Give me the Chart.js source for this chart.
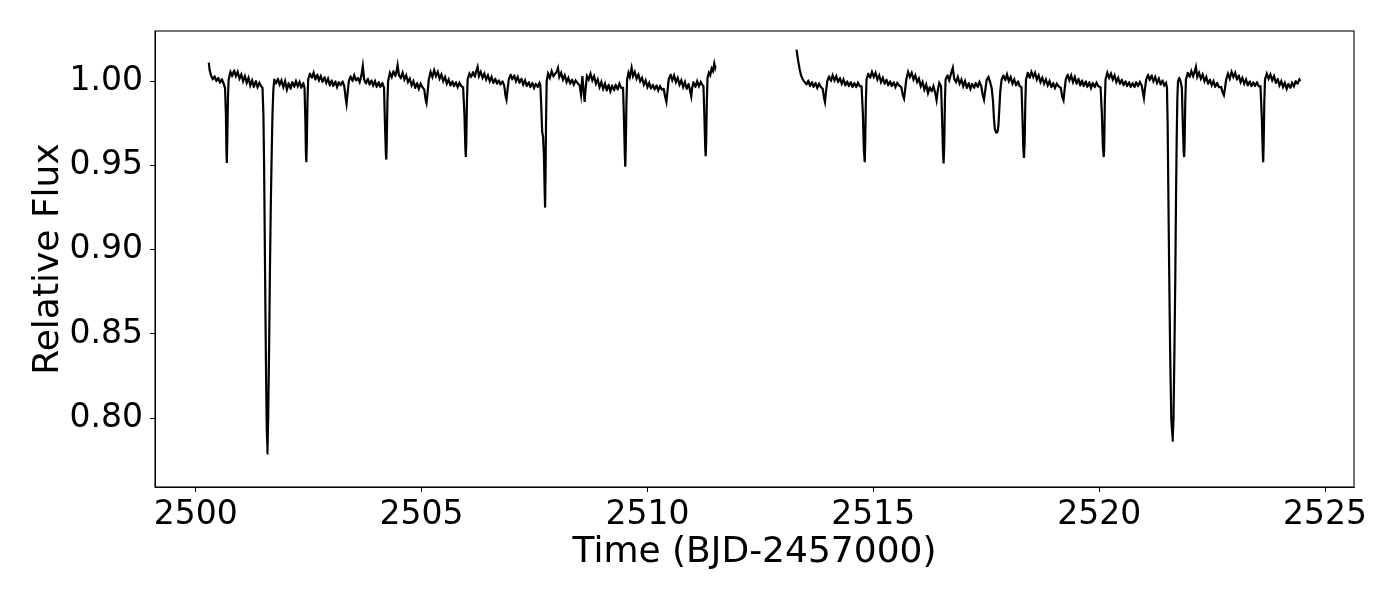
<!DOCTYPE html>
<html>
<head>
<meta charset="utf-8">
<script src="https://cdn.jsdelivr.net/npm/chart.js@4.4.1/dist/chart.umd.min.js"></script>
<style>
  body { margin: 0; background: #fff; }
  canvas { display: block; }
</style>
</head>
<body>
<canvas id="lightCurve" width="1400" height="600"></canvas>
<script>
// first orbit segment (BJD-2457000)
var time1 = [
  2500.29, 2500.31, 2500.34, 2500.38, 2500.42, 2500.46, 2500.50, 2500.54, 2500.58, 2500.62,
  2500.65, 2500.67, 2500.68, 2500.69, 2500.70, 2500.715, 2500.73, 2500.77, 2500.81, 2500.85,
  2500.89, 2500.93, 2500.97, 2501.01, 2501.05, 2501.09, 2501.13, 2501.17, 2501.21, 2501.25,
  2501.29, 2501.33, 2501.37, 2501.41, 2501.45, 2501.48, 2501.50, 2501.515, 2501.535, 2501.555,
  2501.57, 2501.588, 2501.605, 2501.625, 2501.645, 2501.665, 2501.685, 2501.70, 2501.72, 2501.74,
  2501.78, 2501.82, 2501.86, 2501.90, 2501.94, 2501.98, 2502.02, 2502.06, 2502.10, 2502.14,
  2502.18, 2502.22, 2502.26, 2502.30, 2502.34, 2502.38, 2502.41, 2502.43, 2502.44, 2502.45,
  2502.46, 2502.475, 2502.49, 2502.53, 2502.57, 2502.61, 2502.65, 2502.69, 2502.73, 2502.77,
  2502.81, 2502.85, 2502.89, 2502.93, 2502.97, 2503.01, 2503.05, 2503.09, 2503.13, 2503.17,
  2503.21, 2503.25, 2503.29, 2503.32, 2503.34, 2503.36, 2503.39, 2503.43, 2503.47, 2503.51,
  2503.55, 2503.59, 2503.63, 2503.67, 2503.70, 2503.73, 2503.77, 2503.81, 2503.85, 2503.89,
  2503.93, 2503.97, 2504.01, 2504.05, 2504.09, 2504.13, 2504.17, 2504.19, 2504.21, 2504.22,
  2504.23, 2504.245, 2504.26, 2504.30, 2504.34, 2504.38, 2504.42, 2504.45, 2504.47, 2504.50,
  2504.54, 2504.58, 2504.62, 2504.66, 2504.70, 2504.74, 2504.78, 2504.82, 2504.86, 2504.90,
  2504.94, 2504.98, 2505.02, 2505.06, 2505.09, 2505.11, 2505.13, 2505.16, 2505.20, 2505.24,
  2505.28, 2505.32, 2505.36, 2505.40, 2505.44, 2505.48, 2505.52, 2505.56, 2505.60, 2505.64,
  2505.68, 2505.72, 2505.76, 2505.80, 2505.84, 2505.88, 2505.92, 2505.95, 2505.97, 2505.98,
  2505.99, 2506.005, 2506.02, 2506.06, 2506.10, 2506.14, 2506.18, 2506.21, 2506.24, 2506.27,
  2506.31, 2506.35, 2506.39, 2506.43, 2506.47, 2506.51, 2506.55, 2506.59, 2506.63, 2506.67,
  2506.71, 2506.75, 2506.79, 2506.83, 2506.86, 2506.88, 2506.90, 2506.93, 2506.97, 2507.01,
  2507.05, 2507.09, 2507.13, 2507.17, 2507.21, 2507.25, 2507.29, 2507.33, 2507.37, 2507.41,
  2507.45, 2507.49, 2507.53, 2507.57, 2507.61, 2507.63, 2507.65, 2507.67, 2507.69, 2507.71,
  2507.725, 2507.735, 2507.745, 2507.755, 2507.77, 2507.80, 2507.84, 2507.88, 2507.92, 2507.96,
  2508.00, 2508.02, 2508.05, 2508.09, 2508.13, 2508.17, 2508.21, 2508.25, 2508.29, 2508.33,
  2508.37, 2508.41, 2508.45, 2508.50, 2508.53, 2508.56, 2508.59, 2508.61, 2508.63, 2508.66,
  2508.70, 2508.74, 2508.78, 2508.82, 2508.86, 2508.90, 2508.94, 2508.98, 2509.02, 2509.06,
  2509.10, 2509.14, 2509.18, 2509.22, 2509.26, 2509.30, 2509.34, 2509.38, 2509.42, 2509.46,
  2509.48, 2509.50, 2509.51, 2509.52, 2509.535, 2509.55, 2509.58, 2509.61, 2509.65, 2509.68,
  2509.72, 2509.76, 2509.80, 2509.84, 2509.88, 2509.92, 2509.96, 2510.00, 2510.04, 2510.08,
  2510.12, 2510.16, 2510.20, 2510.24, 2510.28, 2510.32, 2510.36, 2510.39, 2510.42, 2510.44,
  2510.47, 2510.51, 2510.55, 2510.59, 2510.63, 2510.67, 2510.71, 2510.75, 2510.79, 2510.83,
  2510.87, 2510.91, 2510.94, 2510.97, 2510.99, 2511.02, 2511.06, 2511.10, 2511.14, 2511.18,
  2511.21, 2511.24, 2511.26, 2511.28, 2511.29, 2511.30, 2511.315, 2511.33, 2511.36, 2511.39,
  2511.42, 2511.45, 2511.48, 2511.50, 2511.51
];
var flux1 = [
  1.0110, 1.0065, 1.0035, 1.0010, 1.0030, 1.0000, 1.0020, 0.9990, 1.0012, 0.9985,
  0.9960, 0.9800, 0.9600, 0.9515, 0.9650, 0.9900, 1.0010, 1.0055, 1.0030, 1.0065,
  1.0030, 1.0055, 1.0015, 1.0040, 1.0000, 1.0030, 0.9990, 1.0020, 0.9975, 1.0005,
  0.9965, 1.0000, 0.9965, 0.9990, 0.9970, 0.9960, 0.9800, 0.9500, 0.8900, 0.8350,
  0.8000, 0.7790, 0.8000, 0.8400, 0.8900, 0.9300, 0.9600, 0.9800, 0.9950, 1.0010,
  0.9985, 1.0015, 0.9980, 1.0005, 0.9965, 1.0000, 0.9950, 0.9990, 0.9955, 0.9995,
  0.9965, 1.0000, 0.9970, 0.9995, 0.9960, 0.9990, 0.9960, 0.9750, 0.9580, 0.9520,
  0.9620, 0.9880, 1.0010, 1.0045, 1.0020, 1.0050, 1.0010, 1.0040, 1.0005, 1.0030,
  0.9995, 1.0025, 0.9990, 1.0015, 0.9975, 1.0005, 0.9970, 1.0000, 0.9965, 0.9995,
  0.9975, 1.0000, 0.9970, 0.9900, 0.9865, 0.9920, 1.0000, 1.0030, 1.0000, 1.0035,
  1.0005, 1.0020, 0.9995, 1.0035, 1.0090, 1.0010, 0.9985, 1.0015, 0.9980, 1.0005,
  0.9975, 1.0000, 0.9965, 0.9995, 0.9965, 0.9990, 0.9960, 0.9750, 0.9570, 0.9535,
  0.9640, 0.9880, 1.0000, 1.0050, 1.0025, 1.0060, 1.0030, 1.0065, 1.0095, 1.0035,
  1.0020, 1.0050, 1.0010, 1.0035, 0.9995, 1.0015, 0.9975, 1.0000, 0.9960, 0.9990,
  0.9955, 0.9985, 0.9965, 0.9950, 0.9890, 0.9870, 0.9920, 1.0010, 1.0055, 1.0025,
  1.0065, 1.0030, 1.0055, 1.0015, 1.0040, 1.0000, 1.0025, 0.9985, 1.0010, 0.9975,
  1.0000, 0.9970, 0.9995, 0.9965, 0.9990, 0.9970, 0.9965, 0.9800, 0.9600, 0.9550,
  0.9640, 0.9880, 1.0010, 1.0045, 1.0025, 1.0055, 1.0025, 1.0060, 1.0085, 1.0030,
  1.0055, 1.0020, 1.0045, 1.0010, 1.0035, 1.0000, 1.0025, 0.9990, 1.0015, 0.9985,
  1.0005, 0.9980, 1.0000, 0.9975, 0.9910, 0.9890, 0.9940, 1.0010, 1.0040, 1.0010,
  1.0035, 1.0000, 1.0025, 0.9990, 1.0015, 0.9980, 1.0005, 0.9970, 0.9995, 0.9965,
  0.9990, 0.9960, 0.9985, 0.9965, 0.9990, 0.9975, 0.9850, 0.9700, 0.9670, 0.9550,
  0.9350, 0.9250, 0.9450, 0.9750, 1.0000, 1.0045, 1.0020, 1.0060, 1.0030, 1.0045,
  1.0060, 1.0078, 1.0025, 1.0050, 1.0010, 1.0035, 0.9995, 1.0020, 0.9985, 1.0010,
  0.9980, 1.0005, 0.9990, 0.9975, 0.9920, 1.0030, 0.9930, 0.9877, 0.9950, 1.0030,
  1.0010, 1.0045, 1.0005, 1.0030, 0.9985, 1.0010, 0.9965, 0.9995, 0.9955, 0.9985,
  0.9945, 0.9980, 0.9940, 0.9975, 0.9945, 0.9980, 0.9950, 0.9985, 0.9960, 0.9960,
  0.9780, 0.9560, 0.9492, 0.9600, 0.9870, 1.0010, 1.0050, 1.0025, 1.0080, 1.0030,
  1.0055, 1.0015, 1.0040, 1.0000, 1.0020, 0.9980, 1.0005, 0.9965, 0.9990, 0.9955,
  0.9980, 0.9950, 0.9975, 0.9945, 0.9970, 0.9950, 0.9955, 0.9910, 0.9877, 0.9930,
  1.0010, 1.0040, 1.0005, 1.0035, 0.9995, 1.0020, 0.9980, 1.0005, 0.9965, 0.9995,
  0.9955, 0.9985, 0.9950, 0.9910, 0.9960, 0.9995, 0.9965, 1.0000, 0.9970, 0.9995,
  0.9980, 0.9970, 0.9800, 0.9600, 0.9555, 0.9640, 0.9880, 1.0020, 1.0050, 1.0035,
  1.0075, 1.0060, 1.0105, 1.0080, 1.0090
];

// second orbit segment
var time2 = [
  2513.30, 2513.32, 2513.34, 2513.37, 2513.40, 2513.44, 2513.48, 2513.52, 2513.56, 2513.60,
  2513.64, 2513.68, 2513.72, 2513.76, 2513.80, 2513.84, 2513.88, 2513.91, 2513.93, 2513.95,
  2513.98, 2514.02, 2514.06, 2514.10, 2514.14, 2514.18, 2514.22, 2514.26, 2514.30, 2514.34,
  2514.38, 2514.42, 2514.46, 2514.50, 2514.54, 2514.58, 2514.62, 2514.66, 2514.70, 2514.74,
  2514.77, 2514.79, 2514.81, 2514.82, 2514.835, 2514.85, 2514.89, 2514.93, 2514.97, 2515.01,
  2515.05, 2515.09, 2515.13, 2515.17, 2515.21, 2515.25, 2515.29, 2515.33, 2515.37, 2515.41,
  2515.45, 2515.49, 2515.53, 2515.57, 2515.62, 2515.65, 2515.68, 2515.70, 2515.73, 2515.77,
  2515.81, 2515.85, 2515.89, 2515.93, 2515.97, 2516.01, 2516.05, 2516.09, 2516.13, 2516.17,
  2516.21, 2516.25, 2516.29, 2516.33, 2516.37, 2516.40, 2516.43, 2516.46, 2516.50, 2516.52,
  2516.54, 2516.555, 2516.57, 2516.585, 2516.60, 2516.64, 2516.68, 2516.72, 2516.76, 2516.79,
  2516.83, 2516.87, 2516.91, 2516.95, 2516.99, 2517.03, 2517.07, 2517.11, 2517.15, 2517.19,
  2517.23, 2517.27, 2517.31, 2517.35, 2517.39, 2517.42, 2517.45, 2517.48, 2517.51, 2517.55,
  2517.59, 2517.62, 2517.65, 2517.67, 2517.69, 2517.72, 2517.75, 2517.77, 2517.79, 2517.81,
  2517.84, 2517.88, 2517.92, 2517.96, 2518.00, 2518.04, 2518.08, 2518.12, 2518.16, 2518.20,
  2518.24, 2518.28, 2518.30, 2518.32, 2518.335, 2518.35, 2518.365, 2518.38, 2518.42, 2518.46,
  2518.50, 2518.54, 2518.58, 2518.62, 2518.66, 2518.70, 2518.74, 2518.78, 2518.82, 2518.86,
  2518.90, 2518.94, 2518.98, 2519.02, 2519.06, 2519.10, 2519.15, 2519.18, 2519.21, 2519.23,
  2519.26, 2519.30, 2519.34, 2519.38, 2519.42, 2519.46, 2519.50, 2519.54, 2519.58, 2519.62,
  2519.66, 2519.70, 2519.74, 2519.78, 2519.82, 2519.86, 2519.90, 2519.94, 2519.98, 2520.03,
  2520.06, 2520.08, 2520.10, 2520.11, 2520.125, 2520.14, 2520.18, 2520.22, 2520.26, 2520.30,
  2520.34, 2520.38, 2520.42, 2520.46, 2520.50, 2520.54, 2520.58, 2520.62, 2520.66, 2520.70,
  2520.74, 2520.78, 2520.82, 2520.86, 2520.90, 2520.94, 2520.97, 2520.99, 2521.01, 2521.04,
  2521.08, 2521.12, 2521.16, 2521.20, 2521.24, 2521.28, 2521.32, 2521.36, 2521.40, 2521.44,
  2521.48, 2521.50, 2521.515, 2521.53, 2521.55, 2521.57, 2521.595, 2521.625, 2521.645, 2521.665,
  2521.685, 2521.70, 2521.715, 2521.73, 2521.745, 2521.77, 2521.80, 2521.83, 2521.85, 2521.87,
  2521.88, 2521.89, 2521.905, 2521.92, 2521.96, 2522.00, 2522.04, 2522.08, 2522.11, 2522.14,
  2522.17, 2522.21, 2522.25, 2522.29, 2522.33, 2522.37, 2522.41, 2522.45, 2522.49, 2522.53,
  2522.57, 2522.61, 2522.65, 2522.70, 2522.73, 2522.76, 2522.78, 2522.81, 2522.85, 2522.89,
  2522.93, 2522.97, 2523.01, 2523.05, 2523.09, 2523.13, 2523.17, 2523.21, 2523.25, 2523.29,
  2523.33, 2523.37, 2523.41, 2523.45, 2523.49, 2523.53, 2523.57, 2523.60, 2523.62, 2523.63,
  2523.64, 2523.655, 2523.67, 2523.71, 2523.75, 2523.79, 2523.83, 2523.87, 2523.91, 2523.95,
  2523.99, 2524.03, 2524.07, 2524.11, 2524.15, 2524.19, 2524.23, 2524.27, 2524.31, 2524.35,
  2524.39, 2524.43, 2524.45
];
var flux2 = [
  1.0188, 1.0150, 1.0115, 1.0070, 1.0035, 1.0010, 0.9995, 0.9980, 1.0005, 0.9970,
  0.9995, 0.9965, 0.9990, 0.9960, 0.9985, 0.9965, 0.9955, 0.9900, 0.9877, 0.9930,
  1.0000, 1.0030, 1.0000, 1.0035, 1.0005, 1.0030, 0.9995, 1.0020, 0.9985, 1.0010,
  0.9975, 1.0000, 0.9970, 0.9995, 0.9965, 0.9990, 0.9965, 0.9990, 0.9970, 0.9970,
  0.9800, 0.9600, 0.9520, 0.9630, 0.9880, 1.0010, 1.0045, 1.0020, 1.0055, 1.0025,
  1.0050, 1.0010, 1.0035, 0.9995, 1.0020, 0.9985, 1.0010, 0.9975, 1.0000, 0.9970,
  0.9995, 0.9965, 0.9990, 0.9975, 0.9965, 0.9920, 0.9897, 0.9940, 1.0010, 1.0055,
  1.0025, 1.0050, 1.0010, 1.0035, 0.9995, 1.0015, 0.9970, 0.9995, 0.9950, 0.9980,
  0.9930, 0.9965, 0.9940, 0.9970, 0.9930, 0.9887, 0.9950, 0.9990, 0.9970, 0.9800,
  0.9600, 0.9512, 0.9620, 0.9880, 1.0010, 1.0035, 1.0005, 1.0045, 1.0080, 1.0015,
  0.9995, 1.0025, 0.9985, 1.0010, 0.9970, 1.0000, 0.9960, 0.9990, 0.9955, 0.9985,
  0.9960, 0.9990, 0.9965, 0.9995, 0.9970, 0.9920, 0.9890, 0.9950, 1.0010, 1.0025,
  0.9990, 0.9960, 0.9880, 0.9780, 0.9715, 0.9695, 0.9700, 0.9740, 0.9840, 0.9940,
  1.0010, 1.0035, 1.0005, 1.0040, 1.0000, 1.0025, 0.9985, 1.0010, 0.9975, 1.0000,
  0.9970, 0.9965, 0.9800, 0.9600, 0.9545, 0.9640, 0.9880, 1.0010, 1.0050, 1.0020,
  1.0055, 1.0025, 1.0050, 1.0010, 1.0035, 0.9995, 1.0020, 0.9985, 1.0010, 0.9975,
  1.0000, 0.9965, 0.9990, 0.9960, 0.9985, 0.9970, 0.9960, 0.9910, 0.9887, 0.9940,
  1.0010, 1.0040, 1.0005, 1.0035, 0.9995, 1.0025, 0.9985, 1.0015, 0.9975, 1.0005,
  0.9970, 1.0000, 0.9965, 0.9995, 0.9960, 0.9990, 0.9965, 0.9990, 0.9970, 0.9965,
  0.9800, 0.9620, 0.9550, 0.9600, 0.9880, 1.0010, 1.0050, 1.0020, 1.0045, 1.0010,
  1.0035, 0.9995, 1.0020, 0.9985, 1.0010, 0.9975, 1.0000, 0.9970, 0.9995, 0.9965,
  0.9990, 0.9965, 0.9995, 0.9970, 0.9995, 0.9975, 0.9930, 0.9900, 0.9950, 1.0010,
  1.0040, 1.0005, 1.0035, 1.0000, 1.0025, 0.9990, 1.0015, 0.9980, 1.0005, 0.9975,
  0.9990, 0.9960, 0.9750, 0.9350, 0.8850, 0.8400, 0.8000, 0.7865, 0.8000, 0.8400,
  0.8850, 0.9300, 0.9650, 0.9900, 1.0000, 1.0020, 1.0000, 0.9960, 0.9750, 0.9580,
  0.9550, 0.9620, 0.9880, 1.0010, 1.0050, 1.0025, 1.0060, 1.0030, 1.0055, 1.0085,
  1.0025, 1.0050, 1.0015, 1.0040, 1.0000, 1.0025, 0.9985, 1.0010, 0.9975, 1.0000,
  0.9965, 0.9990, 0.9965, 0.9965, 0.9935, 0.9917, 0.9950, 1.0010, 1.0045, 1.0015,
  1.0055, 1.0025, 1.0050, 1.0010, 1.0035, 0.9995, 1.0020, 0.9985, 1.0010, 0.9975,
  1.0000, 0.9970, 0.9995, 0.9970, 0.9995, 0.9970, 0.9970, 0.9780, 0.9580, 0.9520,
  0.9620, 0.9880, 1.0010, 1.0045, 1.0015, 1.0040, 1.0005, 1.0030, 0.9990, 1.0015,
  0.9975, 1.0000, 0.9965, 0.9990, 0.9955, 0.9985, 0.9960, 0.9990, 0.9970, 1.0000,
  0.9985, 1.0010, 1.0000
];

var xTicks = [2500, 2505, 2510, 2515, 2520, 2525];
var yTicks = [0.80, 0.85, 0.90, 0.95, 1.00];
var xRange = [2499.10, 2525.64];
var yRange = [0.7592, 1.0298];

function points(t, f) {
  var out = [];
  for (var i = 0; i < t.length; i++) out.push({ x: t[i], y: f[i] });
  return out;
}

// box around the plot area, like matplotlib spines
var frame = {
  id: 'frame',
  afterDraw: function (chart) {
    var a = chart.chartArea, c = chart.ctx;
    c.save();
    c.strokeStyle = '#000';
    c.lineWidth = 1.1;
    c.strokeRect(a.left, a.top, a.right - a.left, a.bottom - a.top);
    c.restore();
  }
};

// a tiny tension keeps chart.js off its pixel-merging fast path,
// so the narrow eclipse walls are drawn separately
var lineStyle = {
  borderColor: '#000', borderWidth: 2.2, pointRadius: 0,
  tension: 0.0001, capBezierPoints: false, fill: false
};

var font = 'DejaVu Sans';
var ctx = document.getElementById('lightCurve').getContext('2d');
new Chart(ctx, {
  type: 'line',
  data: {
    datasets: [
      Object.assign({ data: points(time1, flux1) }, lineStyle),
      Object.assign({ data: points(time2, flux2) }, lineStyle)
    ]
  },
  options: {
    responsive: false,
    animation: false,
    layout: { padding: { left: 0, right: 46, top: 31, bottom: 0 } },
    plugins: { legend: { display: false }, tooltip: { enabled: false } },
    scales: {
      x: {
        type: 'linear',
        min: xRange[0], max: xRange[1],
        afterBuildTicks: function (s) { s.ticks = xTicks.map(function (v) { return { value: v }; }); },
        afterFit: function (s) { s.height = 113; },
        ticks: {
          callback: function (v) { return String(v); },
          font: { family: font, size: 33 }, color: '#000', padding: 4,
          maxRotation: 0, autoSkip: false
        },
        grid: { drawOnChartArea: false, drawTicks: true, tickLength: 5, color: '#000' },
        border: { color: '#000', width: 1 },
        title: {
          display: true, text: 'Time (BJD-2457000)', color: '#000',
          font: { family: font, size: 36 }, padding: { top: 26, bottom: 26 }
        }
      },
      y: {
        min: yRange[0], max: yRange[1],
        afterBuildTicks: function (s) { s.ticks = yTicks.map(function (v) { return { value: v }; }); },
        afterFit: function (s) { s.width = 155; },
        ticks: {
          callback: function (v) { return v.toFixed(2); },
          font: { family: font, size: 33 }, color: '#000', padding: 7
        },
        grid: { drawOnChartArea: false, drawTicks: true, tickLength: 5, color: '#000' },
        border: { color: '#000', width: 1 },
        title: {
          display: true, text: 'Relative Flux', color: '#000',
          font: { family: font, size: 36 }, padding: { top: 27, bottom: 27 }
        }
      }
    }
  },
  plugins: [frame]
});
</script>
</body>
</html>
